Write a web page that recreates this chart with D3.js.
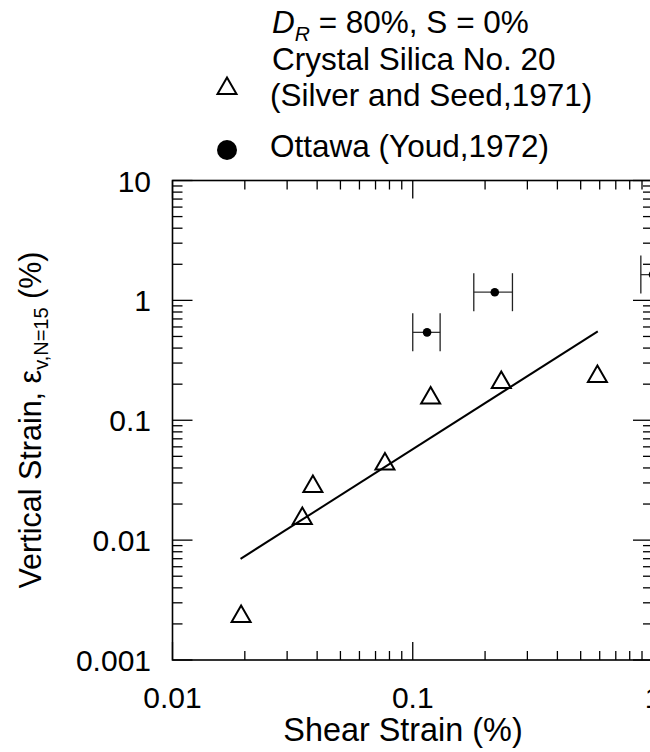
<!DOCTYPE html>
<html><head><meta charset="utf-8">
<script src="https://cdn.jsdelivr.net/npm/d3@7"></script>
<style>body{margin:0;background:#fff}svg{display:block}text{font-family:"Liberation Sans",Arial,sans-serif;fill:#000}</style>
</head><body>
<script>
// Data
const silicaShear = [0.0193, 0.0347, 0.0384, 0.0766, 0.1187, 0.2336, 0.587];
const silicaVert  = [0.00242, 0.0159, 0.0294, 0.0453, 0.161, 0.217, 0.243];
const ottawaShear   = [0.1147, 0.2195, 1.0];
const ottawaVert    = [0.541, 1.17, 1.64];
const ottawaShearLo = [0.100, 0.1795, 0.89];
const ottawaShearHi = [0.130, 0.260, 1.12];
const fitShear = [0.0192, 0.589];
const fitVert  = [0.00698, 0.552];
const xTickLabels = ["0.01", "0.1", "1"];
const yTickLabels = ["0.001", "0.01", "0.1", "1", "10"];

const W = 650, H = 752;
const L = 172.5, R = 653, T = 180.5, B = 660;
const svg = d3.select("body").append("svg").attr("width", W).attr("height", H);
const x = d3.scaleLog().domain([0.01, 1]).range([L, R]);
const y = d3.scaleLog().domain([0.001, 10]).range([B, T]);

// ticks
const xMaj = xTickLabels.map(Number);
const yMaj = yTickLabels.map(Number);
const xMin = [], yMin = [];
[0.01, 0.1].forEach(d => { for (let k = 2; k <= 9; k++) xMin.push(d * k); });
[0.001, 0.01, 0.1, 1].forEach(d => { for (let k = 2; k <= 9; k++) yMin.push(d * k); });
const g = svg.append("g").attr("stroke", "#000").attr("stroke-width", 1.3);
xMin.forEach(v => { g.append("line").attr("x1", x(v)).attr("x2", x(v)).attr("y1", B).attr("y2", B - 9);
                     g.append("line").attr("x1", x(v)).attr("x2", x(v)).attr("y1", T).attr("y2", T + 9); });
xMaj.forEach(v => { g.append("line").attr("x1", x(v)).attr("x2", x(v)).attr("y1", B).attr("y2", B - 18);
                     g.append("line").attr("x1", x(v)).attr("x2", x(v)).attr("y1", T).attr("y2", T + 18); });
yMin.forEach(v => { g.append("line").attr("y1", y(v)).attr("y2", y(v)).attr("x1", L).attr("x2", L + 10);
                     g.append("line").attr("y1", y(v)).attr("y2", y(v)).attr("x1", R).attr("x2", R - 10); });
yMaj.forEach(v => { g.append("line").attr("y1", y(v)).attr("y2", y(v)).attr("x1", L).attr("x2", L + 20);
                     g.append("line").attr("y1", y(v)).attr("y2", y(v)).attr("x1", R).attr("x2", R - 20); });
svg.append("rect").attr("x", L).attr("y", T).attr("width", R - L).attr("height", B - T)
  .attr("fill", "none").attr("stroke", "#000").attr("stroke-width", 1.6);

// tick labels
xTickLabels.forEach(t => svg.append("text").attr("x", x(+t)).attr("y", 708)
  .attr("text-anchor", "middle").attr("font-size", 30).text(t));
yTickLabels.forEach(t => svg.append("text").attr("x", 151).attr("y", y(+t) + 11)
  .attr("text-anchor", "end").attr("font-size", 30).text(t));

// axis titles
svg.append("text").attr("x", 403).attr("y", 741).attr("text-anchor", "middle")
  .attr("font-size", 32.4).text("Shear Strain (%)");
const yl = svg.append("text").attr("transform", "translate(41,420) rotate(-90)")
  .attr("text-anchor", "middle").attr("font-size", 30.5);
yl.append("tspan").text("Vertical Strain, ε");
yl.append("tspan").attr("font-size", 20).attr("dy", 7).text("v,N=15");
yl.append("tspan").attr("dy", -7).text(" (%)");

// fit line
svg.append("path").datum(fitShear.map((d, i) => [d, fitVert[i]]))
  .attr("d", d3.line().x(d => x(d[0])).y(d => y(d[1])))
  .attr("fill", "none").attr("stroke", "#000").attr("stroke-width", 2);

// triangles
const tri = (cx, cy) => `M${cx},${cy - 8.5}L${cx + 9.5},${cy + 8}L${cx - 9.5},${cy + 8}Z`;
svg.append("g").selectAll("path").data(silicaShear.map((d, i) => [d, silicaVert[i]])).join("path")
  .attr("d", d => tri(x(d[0]), y(d[1])))
  .attr("fill", "none").attr("stroke", "#000").attr("stroke-width", 2);

// Ottawa with error bars
const og = svg.append("g");
ottawaShear.forEach((d, i) => {
  const cy = y(ottawaVert[i]);
  og.append("line").attr("x1", x(ottawaShearLo[i])).attr("x2", x(ottawaShearHi[i])).attr("y1", cy).attr("y2", cy)
    .attr("stroke", "#333").attr("stroke-width", 1.3);
  [ottawaShearLo[i], ottawaShearHi[i]].forEach(v =>
    og.append("line").attr("x1", x(v)).attr("x2", x(v)).attr("y1", cy - 19).attr("y2", cy + 19)
      .attr("stroke", "#222").attr("stroke-width", 1.3));
  og.append("circle").attr("cx", x(d)).attr("cy", cy).attr("r", 4.3).attr("fill", "#000");
});

// legend
const t1 = svg.append("text").attr("x", 272).attr("y", 33).attr("font-size", 31.5);
t1.append("tspan").attr("font-style", "italic").text("D");
t1.append("tspan").attr("font-style", "italic").attr("font-size", 21).attr("dy", 8).text("R");
t1.append("tspan").attr("dy", -8).text(" = 80%, S = 0%");
svg.append("text").attr("x", 272).attr("y", 70).attr("font-size", 31.5).text("Crystal Silica No. 20");
svg.append("text").attr("x", 270).attr("y", 106).attr("font-size", 31.5).text("(Silver and Seed,1971)");
svg.append("text").attr("x", 270).attr("y", 157).attr("font-size", 31.5).text("Ottawa (Youd,1972)");
svg.append("path").attr("d", tri(227, 86)).attr("fill", "none").attr("stroke", "#000").attr("stroke-width", 2);
svg.append("circle").attr("cx", 227).attr("cy", 150).attr("r", 10).attr("fill", "#000");
</script>
</body></html>
